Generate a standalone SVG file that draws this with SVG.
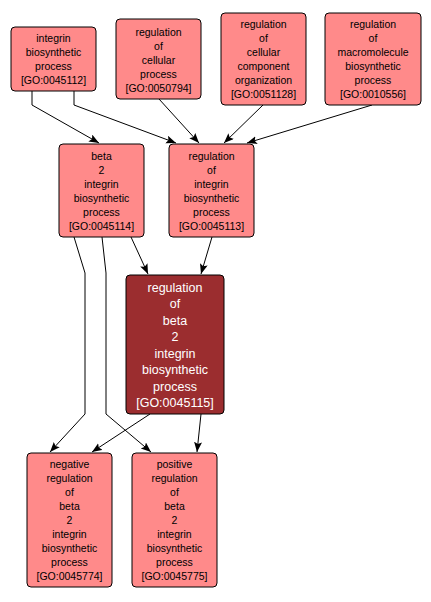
<svg xmlns="http://www.w3.org/2000/svg" width="431" height="602" viewBox="0 0 431 602">
<style>
.n rect{fill:#ff8a8a;stroke:#000;stroke-width:1}
.d rect{fill:#9b2d2f;stroke:#000;stroke-width:1}
.n text{font-family:"Liberation Sans",Arial,sans-serif;font-size:10.5px;fill:#000;text-anchor:middle}
.d text{font-family:"Liberation Sans",Arial,sans-serif;font-size:12.5px;fill:#fff;text-anchor:middle}
#edges path{fill:none;stroke:#000;stroke-width:1;marker-end:url(#ah)}
</style>
<defs>
<marker id="ah" markerUnits="userSpaceOnUse" markerWidth="11" markerHeight="9" refX="10" refY="4" orient="auto">
<path d="M0,0 L10,4 L0,8 L2,4 z" fill="#000"/>
</marker>
</defs>
<rect width="431" height="602" fill="#fff"/>
<g id="edges">
<path d="M32,91 L32,105 L99,143"/>
<path d="M74,91 L74,105 L176,143"/>
<path d="M159,99 L199,143"/>
<path d="M263,105 L224,143"/>
<path d="M372,105 L247,143"/>
<path d="M131,237 L148,274"/>
<path d="M212,237 L201,274"/>
<path d="M74,237 L85,273 L85,414 L50,452"/>
<path d="M102,237 L106,273 L106,414 L151,452"/>
<path d="M150,414 L92,452"/>
<path d="M201,414 L197,452"/>
</g>
<g id="GO0045112" class="n">
<rect x="11" y="27" width="85" height="64" rx="4"/>
<text x="53.5" y="42">integrin</text>
<text x="53.5" y="56">biosynthetic</text>
<text x="53.5" y="70">process</text>
<text x="53.5" y="84">[GO:0045112]</text>
</g>
<g id="GO0050794" class="n">
<rect x="116" y="19" width="85" height="80" rx="4"/>
<text x="158.5" y="35.5">regulation</text>
<text x="158.5" y="49.5">of</text>
<text x="158.5" y="63.5">cellular</text>
<text x="158.5" y="77.5">process</text>
<text x="158.5" y="91.5">[GO:0050794]</text>
</g>
<g id="GO0051128" class="n">
<rect x="221" y="13" width="85" height="92" rx="4"/>
<text x="263.5" y="28">regulation</text>
<text x="263.5" y="42">of</text>
<text x="263.5" y="56">cellular</text>
<text x="263.5" y="70">component</text>
<text x="263.5" y="84">organization</text>
<text x="263.5" y="98">[GO:0051128]</text>
</g>
<g id="GO0010556" class="n">
<rect x="325" y="13" width="96" height="92" rx="4"/>
<text x="373" y="28">regulation</text>
<text x="373" y="42">of</text>
<text x="373" y="56">macromolecule</text>
<text x="373" y="70">biosynthetic</text>
<text x="373" y="84">process</text>
<text x="373" y="98">[GO:0010556]</text>
</g>
<g id="GO0045114" class="n">
<rect x="59" y="144" width="85" height="93" rx="4"/>
<text x="101.5" y="160">beta</text>
<text x="101.5" y="174">2</text>
<text x="101.5" y="188">integrin</text>
<text x="101.5" y="202">biosynthetic</text>
<text x="101.5" y="216">process</text>
<text x="101.5" y="230">[GO:0045114]</text>
</g>
<g id="GO0045113" class="n">
<rect x="169" y="144" width="85" height="93" rx="4"/>
<text x="211.5" y="160">regulation</text>
<text x="211.5" y="174">of</text>
<text x="211.5" y="188">integrin</text>
<text x="211.5" y="202">biosynthetic</text>
<text x="211.5" y="216">process</text>
<text x="211.5" y="230">[GO:0045113]</text>
</g>
<g id="GO0045115" class="d">
<rect x="126" y="275" width="98" height="139" rx="4"/>
<text x="175" y="291.5">regulation</text>
<text x="175" y="308">of</text>
<text x="175" y="324.5">beta</text>
<text x="175" y="341">2</text>
<text x="175" y="357.5">integrin</text>
<text x="175" y="374">biosynthetic</text>
<text x="175" y="390.5">process</text>
<text x="175" y="407">[GO:0045115]</text>
</g>
<g id="GO0045774" class="n">
<rect x="27" y="453" width="85" height="134" rx="4"/>
<text x="69.5" y="468">negative</text>
<text x="69.5" y="482">regulation</text>
<text x="69.5" y="496">of</text>
<text x="69.5" y="510">beta</text>
<text x="69.5" y="524">2</text>
<text x="69.5" y="538">integrin</text>
<text x="69.5" y="552">biosynthetic</text>
<text x="69.5" y="566">process</text>
<text x="69.5" y="580">[GO:0045774]</text>
</g>
<g id="GO0045775" class="n">
<rect x="132" y="453" width="85" height="134" rx="4"/>
<text x="174.5" y="468">positive</text>
<text x="174.5" y="482">regulation</text>
<text x="174.5" y="496">of</text>
<text x="174.5" y="510">beta</text>
<text x="174.5" y="524">2</text>
<text x="174.5" y="538">integrin</text>
<text x="174.5" y="552">biosynthetic</text>
<text x="174.5" y="566">process</text>
<text x="174.5" y="580">[GO:0045775]</text>
</g>
</svg>
